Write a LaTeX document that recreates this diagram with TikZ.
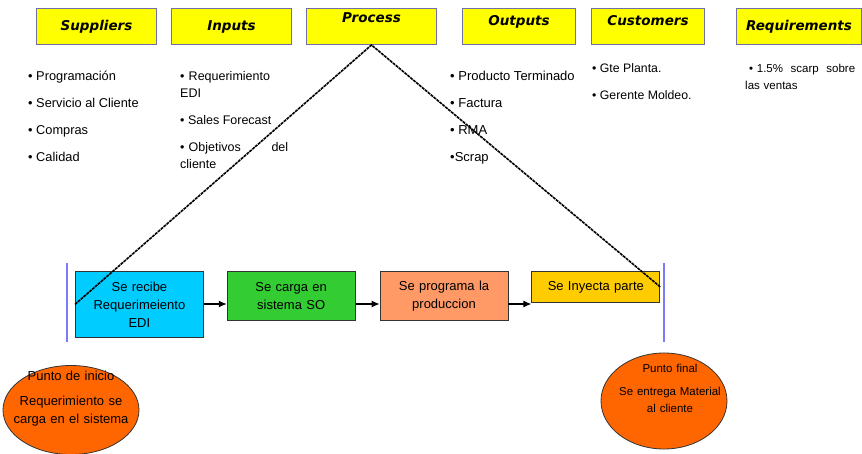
\documentclass[tikz,border=0pt]{standalone}
\usepackage{fontspec}
\setmainfont{Liberation Sans}
\newfontfamily\hdfont{DejaVu Sans}
\usetikzlibrary{arrows.meta,positioning,shapes.geometric}
\definecolor{hdyellow}{HTML}{FFFF00}
\definecolor{hdborder}{HTML}{7070A8}
\definecolor{recibecol}{HTML}{00CCFF}
\definecolor{cargacol}{HTML}{33CC33}
\definecolor{programacol}{HTML}{FF9966}
\definecolor{inyectacol}{HTML}{FFCC00}
\definecolor{puntocol}{HTML}{FF6600}
\definecolor{barcol}{HTML}{7B7BFF}
\tikzset{
    header/.style={draw=hdborder,fill=hdyellow,line width=1pt,minimum height=36pt,anchor=north west,inner sep=0pt,font=\hdfont\bfseries\itshape\fontsize{13.5}{13.5}\selectfont},
    hdtop/.style={text depth=#1},
    item/.style={anchor=base west,inner sep=0pt,font=\fontsize{#1}{17}\selectfont,align=left},
    item/.default=12.5,
    stepbox/.style={draw=black!80,line width=0.8pt,minimum width=128pt,text width=126pt,align=center,anchor=north west,inner sep=0pt,font=\fontsize{13}{18}\selectfont},
    punto/.style={ellipse,draw=black!80,fill=puntocol,line width=0.8pt,inner sep=0pt},
    puntotext/.style={anchor=base,align=center,inner sep=0pt,text width=130pt},
    flow/.style={-{Latex[length=8pt,width=7pt]},line width=1.2pt},
    tri/.style={line width=1.6pt,dash pattern=on 3pt off 0.8pt},
    bar/.style={barcol,line width=2pt}
}

\begin{document}
\begin{tikzpicture}[x=1pt,y=-1pt]
    \useasboundingbox (0,0) rectangle (862,454);

    % headers
    \node[header,minimum width=120pt] (suppliers) at (36,8) {Suppliers};
    \node[header,minimum width=120pt] (inputs) at (171,8) {Inputs};
    \node[header,hdtop=17pt,minimum width=130pt] (process) at (306,8) {Process};
    \node[header,hdtop=13pt,minimum width=113pt] (outputs) at (462,8) {Outputs};
    \node[header,hdtop=13pt,minimum width=113pt] (customers) at (591,8) {Customers};
    \node[header,minimum width=125pt] (requirements) at (736,8) {Requirements};

    % lists
    \foreach \txt [count=\i] in {Programación,Servicio al Cliente,Compras,Calidad}
        \node[item=12.8] (sup\i) at (28,{81+27*(\i-1)}) {• \txt};

    \node[item,text width=108pt] (inp1) at (180,81) {• Requerimiento\\EDI};
    \node[item] (inp2) at (180,125) {• Sales Forecast};
    \node[item,text width=108pt] (inp3) at (180,152) {• Objetivos\hfill del\\cliente};

    \foreach \txt [count=\i] in {• Producto Terminado,• Factura,• RMA,•Scrap}
        \node[item=13] (out\i) at (450,{81+27*(\i-1)}) {\txt};

    \node[item=12.3] (cus1) at (592,73) {• Gte Planta.};
    \node[item=12.3] (cus2) at (592,100) {• Gerente Moldeo.};

    \node[item=11.5,text width=110pt] (req1) at (745,73) {\ • 1.5\%\hfill scarp\hfill sobre\\las ventas};

    % process flow
    \node[stepbox,fill=recibecol,minimum height=66pt] (recibe) at (75,271) {Se recibe\\Requerimeiento\\EDI};
    \node[stepbox,fill=cargacol,minimum height=49pt,right=23pt of recibe.north east,anchor=north west] (carga) {Se carga en\\sistema SO};
    \node[stepbox,fill=programacol,minimum height=49pt,right=24pt of carga.north east,anchor=north west] (programa) {Se programa la\\produccion};
    \node[stepbox,fill=inyectacol,minimum height=31pt,right=23pt of programa.north east,anchor=north west] (inyecta) {Se Inyecta parte};

    \coordinate (lvl) at (0,304);
    \draw[flow] (recibe.east |- lvl) -- (carga.west |- lvl);
    \draw[flow] (carga.east |- lvl) -- (programa.west |- lvl);
    \draw[flow] (programa.east |- lvl) -- (inyecta.west |- lvl);

    \draw[bar] (67,263) -- (67,342);
    \draw[bar] (664,263) -- (664,342);

    \draw[tri] (recibe.west) -- (process.south) -- (inyecta.east);

    % start / end
    \node[punto,minimum width=136pt,minimum height=89pt] (inicio) at (71,410) {};
    \node[puntotext,font=\fontsize{13}{18}\selectfont] (inicio text) at (71,380) {Punto de inicio\\[7pt]Requerimiento se\\carga en el sistema};

    \node[punto,minimum width=126pt,minimum height=96pt] (final) at (664,401) {};
    \node[puntotext,font=\fontsize{11.5}{16.5}\selectfont] (final text) at (670,372) {Punto final\\[7pt]Se entrega Material\\al cliente};
\end{tikzpicture}
\end{document}
